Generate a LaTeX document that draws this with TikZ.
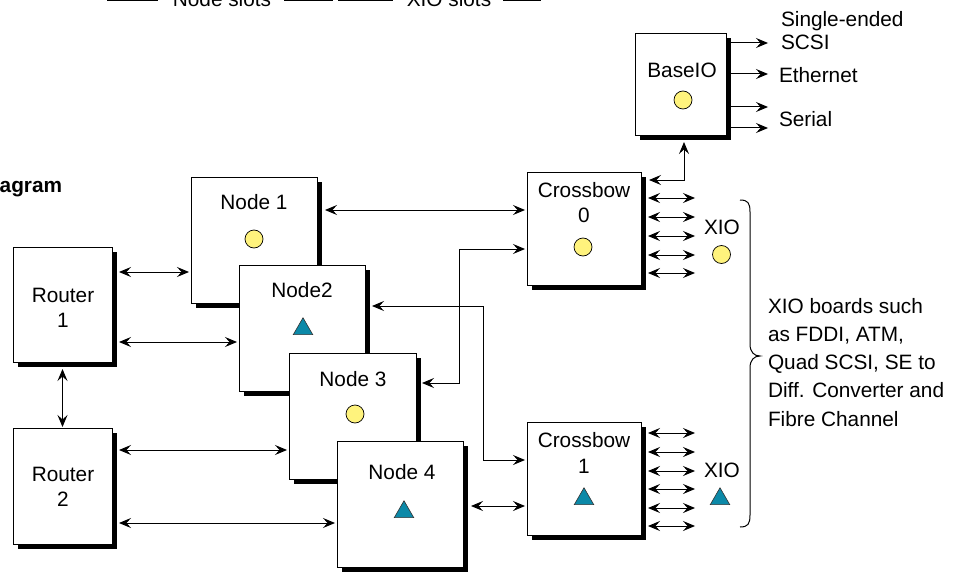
\documentclass[tikz,border=0pt]{standalone}
\usepackage{fontspec}
\setmainfont{Liberation Sans}
\usetikzlibrary{arrows.meta,shadows,shapes.geometric}
\definecolor{dotyellow}{RGB}{255,243,125}
\definecolor{triteal}{RGB}{12,137,168}
\begin{document}
\begin{tikzpicture}[x=1pt,y=-1pt,
  box/.style={draw=black, line width=0.9pt, fill=white, rectangle, inner sep=0pt, outer sep=0pt, anchor=north west,
    drop shadow={shadow xshift=5pt, shadow yshift=-5pt, fill=black, opacity=1}},
  lbl/.style={inner sep=0pt, outer sep=0pt, font=\fontsize{20.8}{25.5}\selectfont, align=center},
  dot/.style={circle, draw=black, line width=0.7pt, fill=dotyellow, minimum size=18pt, inner sep=0pt},
  tri/.style={regular polygon, regular polygon sides=3, draw=black!80, line width=0.6pt, fill=triteal, minimum size=22.5pt, inner sep=0pt},
  conn/.style={line width=1pt},
  tip/.tip={Stealth[length=12pt,width=10pt,inset=4.5pt]},
  dar/.style={conn, tip-tip},
  sar/.style={conn, -tip}
]
\useasboundingbox (0,0) rectangle (961,575);
\clip (0,0) rectangle (961,575);

% top fragment
\node[lbl, anchor=base] (nslots) at (222,7) {Node slots};
\node[lbl, anchor=base] (xslots) at (449,7) {XIO slots};
\draw[conn] (107,-12) -- (107,1) -- (158,1);
\draw[conn] (284,1) -- (332,1) -- (332,-12);
\draw[conn] (338,-12) -- (338,1) -- (393,1);
\draw[conn] (503,1) -- (540,1) -- (540,-12);
\node[inner sep=0pt, anchor=base west, font=\fontsize{20.8}{25}\selectfont\bfseries] (dgm) at (-0.5,192) {agram};

% boxes
\node[box, minimum width=99pt, minimum height=115pt] (r1) at (13,247) {};
\node[box, minimum width=99pt, minimum height=116pt] (r2) at (13,428) {};
\node[box, minimum width=126pt, minimum height=126pt] (n1) at (191,177) {};
\node[box, minimum width=126pt, minimum height=126pt] (n2) at (239,265) {};
\node[box, minimum width=127pt, minimum height=126pt] (n3) at (289,353) {};
\node[box, minimum width=126pt, minimum height=126pt] (n4) at (337,441) {};
\node[box, minimum width=114pt, minimum height=113pt] (cb0) at (527,172) {};
\node[box, minimum width=114pt, minimum height=113pt] (cb1) at (527,422) {};
\node[box, minimum width=91pt, minimum height=102pt] (bio) at (635,33) {};

% labels
\node[lbl] (r1t) at (63,308) {Router\\1};
\node[lbl] (r2t) at (63,487) {Router\\2};
\node[lbl] (n1t) at (254,202) {Node 1};
\node[lbl] (n2t) at (302,290) {Node2};
\node[lbl] (n3t) at (353,379) {Node 3};
\node[lbl] (n4t) at (402,472) {Node 4};
\node[lbl] (cb0t) at (584,202.5) {Crossbow\\0};
\node[lbl] (cb1t) at (584,453) {Crossbow\\1};
\node[lbl] (biot) at (682,70) {BaseIO};
\node[lbl] (x0t) at (722,227) {XIO};
\node[lbl] (x1t) at (722,470) {XIO};
\node[lbl, anchor=base west] (se) at (781,27) {Single-ended};
\node[lbl, anchor=base west] (scsi) at (781,50) {SCSI};
\node[lbl, anchor=base west] (eth) at (779,82.5) {Ethernet};
\node[lbl, anchor=base west] (ser) at (779,127) {Serial};
\node[lbl, align=left, anchor=north west, font=\fontsize{20.8}{28.3}\selectfont] (bt) at (768,298) {XIO boards such\\as FDDI, ATM,\\Quad SCSI, SE to\\Diff. Converter and\\Fibre Channel};

% symbols
\node[dot] (c1) at (254,239) {};
\node[dot] (c3) at (355,414) {};
\node[dot] (c0) at (583,247) {};
\node[dot] (cbio) at (683,100) {};
\node[dot] (cx0) at (721.5,254.5) {};
\node[tri] (t2) at (303,329) {};
\node[tri] (t4) at (404,512) {};
\node[tri] (tcb1) at (584,499) {};
\node[tri] (tx1) at (720,499) {};

% connectors
\draw[dar] ([shift={(7,25)}]r1.north east) -- ([shift={(-2,95)}]n1.north west);
\draw[dar] ([shift={(7,95)}]r1.north east) -- ([shift={(-2,77)}]n2.north west);
\draw[dar] ([shift={(7,22)}]r2.north east) -- ([shift={(-2,97)}]n3.north west);
\draw[dar] ([shift={(7,95)}]r2.north east) -- ([shift={(-2,82)}]n4.north west);
\draw[dar] ([shift={(0,7)}]r1.south) -- ([shift={(0,-1)}]r2.north);
\draw[dar] ([shift={(8,33)}]n1.north east) -- ([shift={(-2,38)}]cb0.north west);
\draw[dar] ([shift={(6,30)}]n3.north east) -| ([shift={(-68,77)}]cb0.north west) -- ([shift={(-2,77)}]cb0.north west);
\draw[dar] ([shift={(7,41)}]n2.north east) -| ([shift={(-44,38)}]cb1.north west) -- ([shift={(-2,38)}]cb1.north west);
\draw[dar] ([shift={(8,65)}]n4.north east) -- ([shift={(-2,84)}]cb1.north west);
\draw[dar] ([shift={(8,8)}]cb0.north east) -| ([shift={(3.5,7)}]bio.south);

% XIO arrows
\foreach \dy in {26,45,64,83,101}
  \draw[dar] ([shift={(7,\dy)}]cb0.north east) -- ([shift={(54,\dy)}]cb0.north east);
\foreach \dy in {11,30,49,67,86,104}
  \draw[dar] ([shift={(7,\dy)}]cb1.north east) -- ([shift={(54,\dy)}]cb1.north east);

% BaseIO outputs
\foreach \dy in {10,41,74,95}
  \draw[sar] ([shift={(5,\dy)}]bio.north east) -- ([shift={(42,\dy)}]bio.north east);

% brace
\draw[conn] (740,200) .. controls (748,200) and (750,203) .. (750,212) -- (750,344)
  .. controls (750,352) and (754,356) .. (760,356)
  .. controls (754,356) and (750,360) .. (750,368) -- (750,515)
  .. controls (750,524) and (748,527) .. (740,527);
\end{tikzpicture}
\end{document}
